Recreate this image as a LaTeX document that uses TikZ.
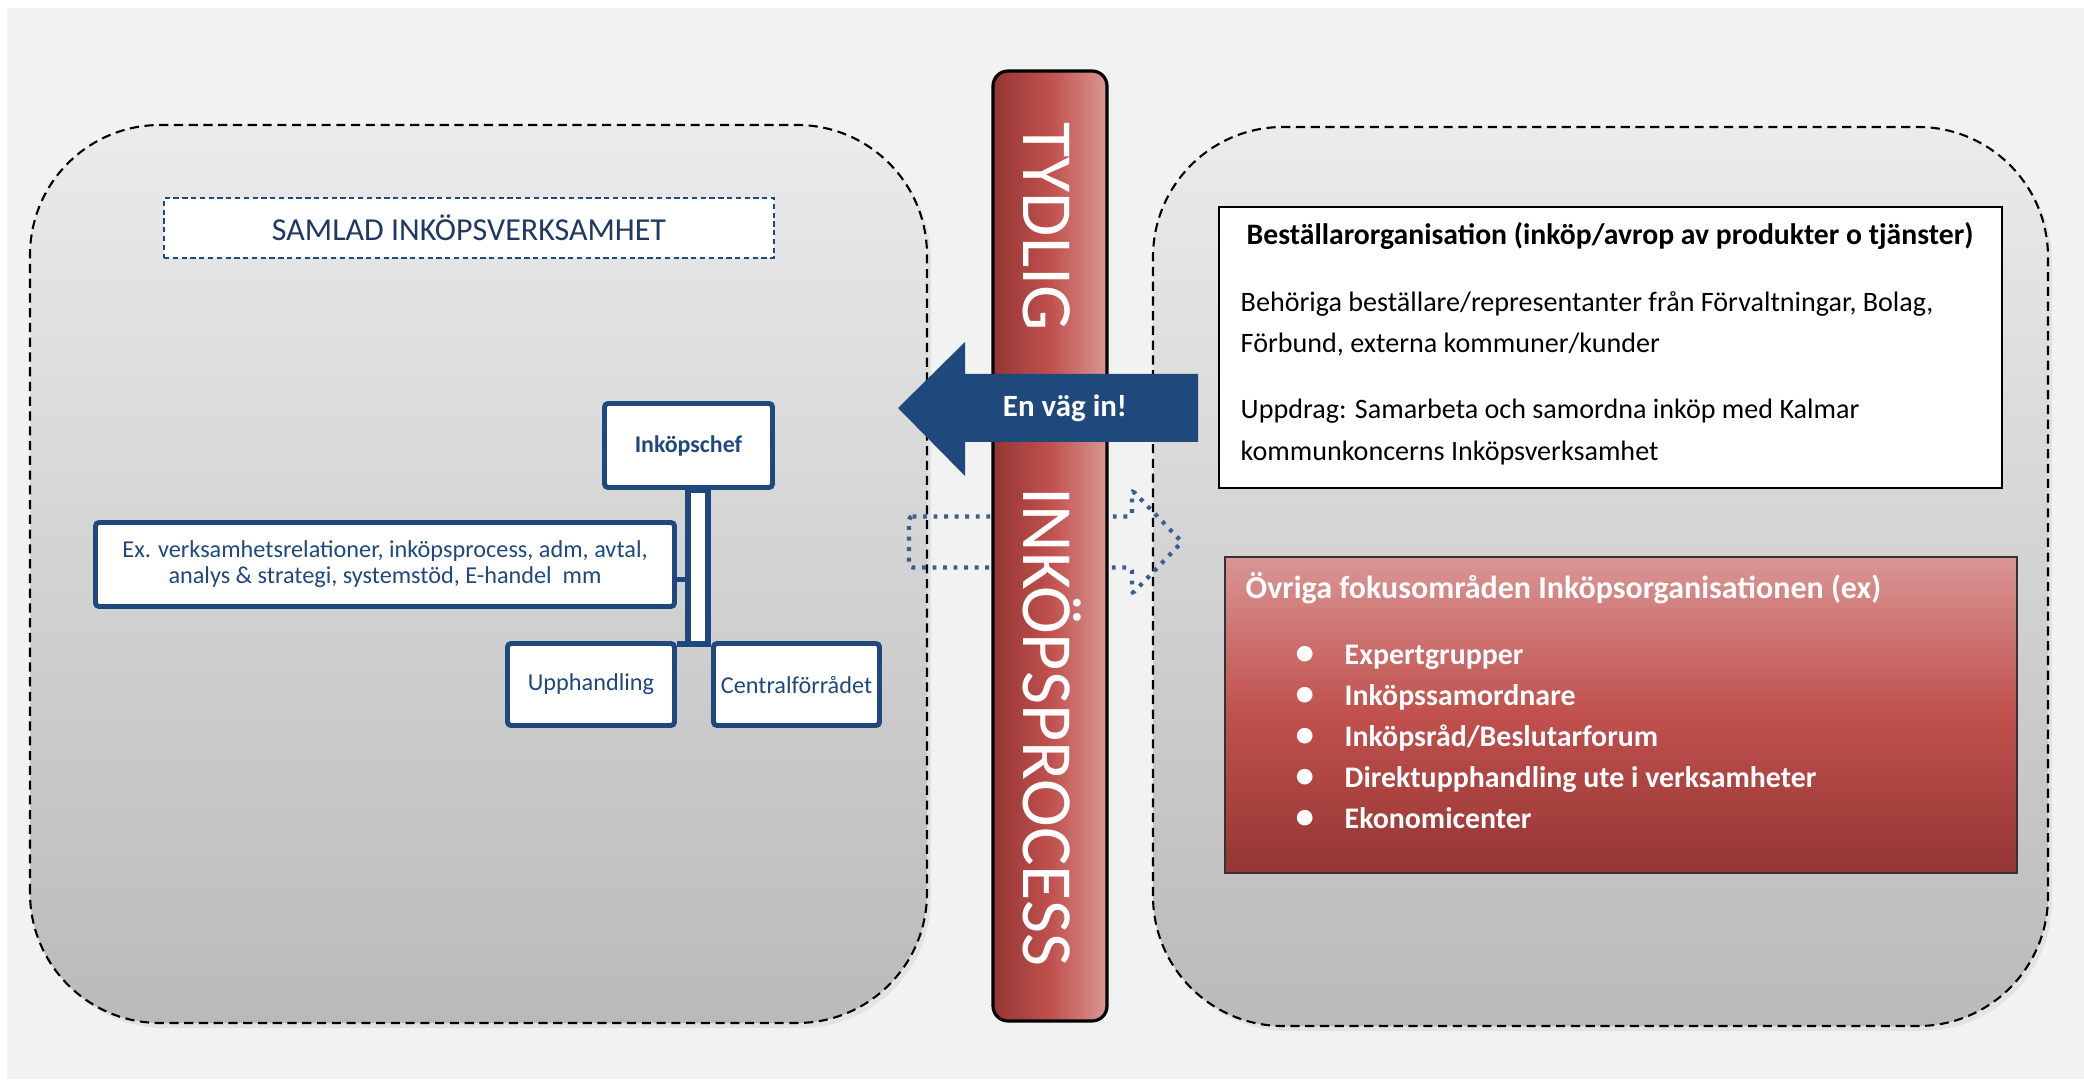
\documentclass[tikz,border=0pt]{standalone}
\usepackage{fontspec}
\setmainfont{Carlito}
\usepackage{tikz}
\usetikzlibrary{positioning, calc}
\definecolor{orgnavy}{HTML}{1F497D}
\definecolor{titlenavy}{HTML}{1F3864}
\definecolor{dotnavy}{HTML}{3A5F8F}
\definecolor{canvas}{HTML}{F2F2F2}
\definecolor{paneltop}{HTML}{EBEBEB}
\definecolor{panelbottom}{HTML}{BABABA}
\definecolor{reddark}{HTML}{943634}
\definecolor{redmid}{HTML}{C0504D}
\definecolor{redlight}{HTML}{D99694}
\tikzset{
  panel/.style={draw=black, line width=0.6pt, dash pattern=on 2.6pt off 1.6pt, rounded corners=1.3cm, top color=paneltop, bottom color=panelbottom},
  panelshadow/.style={fill=black, opacity=0.06, rounded corners=1.3cm},
  titlebox/.style={draw=orgnavy, line width=0.5pt, dash pattern=on 1.5pt off 1pt, fill=white, minimum width=6.1cm, minimum height=0.6cm, font=\fontsize{9.1}{11}\selectfont, text=titlenavy},
  orgbox/.style={draw=orgnavy, line width=1.4pt, fill=white, rounded corners=1pt, align=center, text=orgnavy, font=\fontsize{6.9}{7.4}\selectfont, minimum height=0.84cm, inner sep=2pt},
  orglink/.style={draw=orgnavy, line width=1.6pt, fill=white},
  infobox/.style={draw=black, line width=0.8pt, fill=white},
  focusbox/.style={draw=black!80, line width=0.5pt, top color=redlight, bottom color=reddark, middle color=redmid},
  lane/.style={draw=black, line width=0.9pt, rounded corners=0.15cm, left color=reddark, right color=redlight, middle color=redmid},
  lanetext/.style={rotate=-90, text=white, font=\fontsize{20.5}{24}\selectfont, text height=13.2pt, text depth=0pt, inner sep=0pt},
  infotext/.style={anchor=west, align=left, inner sep=0pt, font=\fontsize{8}{11.7}\selectfont},
  focustext/.style={anchor=west, align=left, inner sep=0pt, text=white, font=\bfseries\fontsize{9.1}{11.7}\selectfont},
  wayarrow/.style={fill=orgnavy},
  waytext/.style={text=white, font=\bfseries\fontsize{8.8}{10}\selectfont, inner sep=0pt},
  hintarrow/.style={draw=dotnavy, line width=1.2pt, dash pattern=on 1.1pt off 1.9pt, rounded corners=1pt},
}
\newcommand{\focusitem}[1]{\makebox[0.4cm]{\fontsize{10.5}{11.7}\selectfont\textbullet}\hspace{0.2cm}{\fontsize{8.5}{11.7}\selectfont #1}}
\begin{document}
\begin{tikzpicture}
  \useasboundingbox (0,0) rectangle (20.84,10.79);
  \fill[canvas] (0.07,0) rectangle (20.84,10.71);
  \fill[panelshadow] (0.34,0.51) rectangle (9.31,9.50);
  \fill[panelshadow] (11.57,0.48) rectangle (20.52,9.48);
  \draw[panel] (0.30,0.56) rectangle (9.27,9.54);
  \draw[panel] (11.53,0.53) rectangle (20.48,9.52);

  \node[titlebox] (samlad) at (4.69,8.51) {SAMLAD INKÖPSVERKSAMHET};

  \node[orgbox, font=\bfseries\fontsize{6.8}{7.4}\selectfont, minimum width=1.68cm] (chef) at (6.885,6.335) {Inköpschef};
  \node[orgbox, minimum width=5.79cm] (ex) at (3.85,5.145) {Ex. verksamhetsrelationer, inköpsprocess, adm, avtal,\\analys \& strategi, systemstöd, E-handel\ \ mm};
  \node[orgbox, minimum width=1.67cm, minimum height=0.82cm] (upph) at (5.91,3.945) {Upphandling};
  \node[orgbox, minimum width=1.66cm, minimum height=0.82cm] (cent) at (7.965,3.945) {Centralförrådet};

  \coordinate (spine) at ([xshift=-0.005cm]chef.south);
  \draw[orglink] (spine) rectangle ([xshift=0.2cm, yshift=-0.03cm]spine |- upph.north);
  \draw[orglink] ([yshift=-0.03cm]upph.north east) -- ([yshift=-0.03cm]cent.north west);
  \draw[orglink] ([yshift=-0.15cm]ex.east) -- ([yshift=-0.15cm]ex.east -| spine);

  \node[infobox, minimum width=7.83cm, minimum height=2.81cm] (order) at (16.105,7.315) {};
  \node[font=\bfseries\fontsize{8.45}{10}\selectfont, inner sep=0pt] (ordertitle) at (16.10,8.43) {Beställarorganisation (inköp/avrop av produkter o tjänster)};
  \node[infotext] (orderwho) at (12.40,7.55) {Behöriga beställare/representanter från Förvaltningar, Bolag,\\Förbund, externa kommuner/kunder};
  \node[infotext] (ordertask) at (12.40,6.47) {Uppdrag: Samarbeta och samordna inköp med Kalmar\\kommunkoncerns Inköpsverksamhet};

  \node[focusbox, minimum width=7.92cm, minimum height=3.16cm] (focus) at (16.21,3.64) {};
  \node[focustext] (focustitle) at (12.45,4.91) {Övriga fokusområden Inköpsorganisationen (ex)};
  \node[focustext] (focuslist) at (12.84,3.42) {\focusitem{Expertgrupper}\\
    \focusitem{Inköpssamordnare}\\
    \focusitem{Inköpsråd/Beslutarforum}\\
    \focusitem{Direktupphandling ute i verksamheter}\\
    \focusitem{Ekonomicenter}};

  \draw[hintarrow] (9.09,5.625) -- (11.32,5.625) -- (11.32,5.89) -- (11.82,5.37) -- (11.32,4.85) -- (11.32,5.115) -- (9.09,5.115) -- cycle;

  \node[lane, minimum width=1.14cm, minimum height=9.5cm] (bar) at (10.50,5.33) {};
  \node[lanetext] (tydlig) at (10.47,8.52) {TYDLIG};
  \node[lanetext] (process) at (10.47,3.52) {INKÖPSPROCESS};

  \fill[wayarrow] (8.98,6.71) -- (9.65,7.37) -- (9.65,7.05) -- (11.98,7.05) -- (11.98,6.37) -- (9.65,6.37) -- (9.65,6.03) -- cycle;
  \node[waytext] (way) at (10.65,6.71) {En väg in!};
\end{tikzpicture}
\end{document}
